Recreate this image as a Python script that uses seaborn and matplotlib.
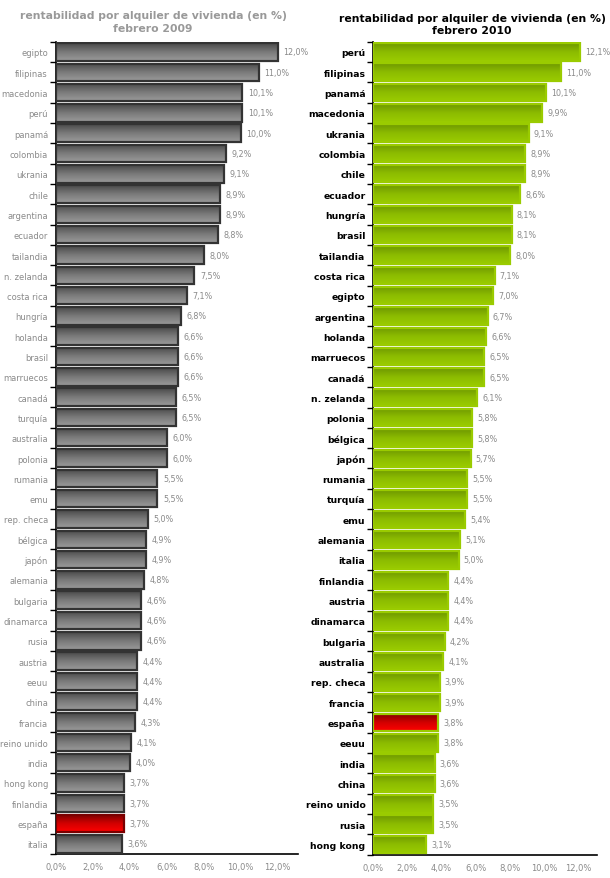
import numpy as np
import pandas as pd
import matplotlib
matplotlib.use("Agg")
import matplotlib.pyplot as plt
from matplotlib.colors import LinearSegmentedColormap
import seaborn as sns

# datos febrero 2009
paises_2009 = ["egipto", "filipinas", "macedonia", "perú", "panamá", "colombia", "ukrania",
               "chile", "argentina", "ecuador", "tailandia", "n. zelanda", "costa rica",
               "hungría", "holanda", "brasil", "marruecos", "canadá", "turquía", "australia",
               "polonia", "rumania", "emu", "rep. checa", "bélgica", "japón", "alemania",
               "bulgaria", "dinamarca", "rusia", "austria", "eeuu", "china", "francia",
               "reino unido", "india", "hong kong", "finlandia", "españa", "italia"]
rent_2009 = [12.0, 11.0, 10.1, 10.1, 10.0, 9.2, 9.1, 8.9, 8.9, 8.8, 8.0, 7.5, 7.1, 6.8,
             6.6, 6.6, 6.6, 6.5, 6.5, 6.0, 6.0, 5.5, 5.5, 5.0, 4.9, 4.9, 4.8, 4.6, 4.6,
             4.6, 4.4, 4.4, 4.4, 4.3, 4.1, 4.0, 3.7, 3.7, 3.7, 3.6]

# datos febrero 2010
paises_2010 = ["perú", "filipinas", "panamá", "macedonia", "ukrania", "colombia", "chile",
               "ecuador", "hungría", "brasil", "tailandia", "costa rica", "egipto",
               "argentina", "holanda", "marruecos", "canadá", "n. zelanda", "polonia",
               "bélgica", "japón", "rumania", "turquía", "emu", "alemania", "italia",
               "finlandia", "austria", "dinamarca", "bulgaria", "australia", "rep. checa",
               "francia", "españa", "eeuu", "india", "china", "reino unido", "rusia",
               "hong kong"]
rent_2010 = [12.1, 11.0, 10.1, 9.9, 9.1, 8.9, 8.9, 8.6, 8.1, 8.1, 8.0, 7.1, 7.0, 6.7,
             6.6, 6.5, 6.5, 6.1, 5.8, 5.8, 5.7, 5.5, 5.5, 5.4, 5.1, 5.0, 4.4, 4.4, 4.4,
             4.2, 4.1, 3.9, 3.9, 3.8, 3.8, 3.6, 3.6, 3.5, 3.5, 3.1]

xticks = [0, 2, 4, 6, 8, 10, 12]
xlabels = ["0,0%", "2,0%", "4,0%", "6,0%", "8,0%", "10,0%", "12,0%"]
titulo = "rentabilidad por alquiler de vivienda (en %)"

gris = LinearSegmentedColormap.from_list("gris", ["#4a4a4a", "#7a7a7a", "#9a9a9a"])
verde = LinearSegmentedColormap.from_list("verde", ["#6f9800", "#8cbc00", "#9acb00"])
rojo = LinearSegmentedColormap.from_list("rojo", ["#7a0000", "#d00000", "#ff0000"])

sns.set_style("white")
plt.rcParams["font.family"] = ["DejaVu Sans"]

fig = plt.figure(figsize=(6.1, 8.79), dpi=100)
ax1 = fig.add_axes([0.0913, 0.0273, 0.397, 0.924])
ax2 = fig.add_axes([0.6115, 0.0265, 0.3675, 0.925])

grad = np.linspace(0, 1, 64).reshape(-1, 1)


def dibuja(ax, paises, valores, cmap, edge, lbl_color, lbl_weight):
    df = pd.DataFrame({"pais": paises, "valor": valores})
    sns.barplot(data=df, x="valor", y="pais", orient="h", ax=ax, width=0.86,
                color="#888888", saturation=1)
    for p, pais, v in zip(ax.patches, paises, valores):
        x0, y0 = p.get_x(), p.get_y()
        w, h = p.get_width(), p.get_height()
        cm = rojo if pais == "españa" else cmap
        ec = "#7a0000" if (pais == "españa" and edge == "#333333") else edge
        im = ax.imshow(grad, cmap=cm, extent=[x0, x0 + w, y0 + h, y0],
                       aspect="auto", zorder=2, interpolation="bilinear")
        im.set_clip_path(p)
        p.set_facecolor("none")
        p.set_edgecolor(ec)
        p.set_linewidth(1.6)
        p.set_zorder(3)
        ax.text(v + 0.3, y0 + h / 2, f"{v:.1f}%".replace(".", ","), va="center",
                ha="left", fontsize=5.8, color="#8a8a8a")
    ax.set_xlim(0, 13.1)
    ax.set_ylim(len(paises) - 0.5, -0.5)
    ax.set_xticks(xticks)
    ax.set_xticklabels(xlabels, fontsize=6.0, color="#8a8a8a")
    ax.set_yticks(range(len(paises)))
    ax.set_yticklabels(paises, fontsize=6.0 if lbl_weight == "normal" else 6.7,
                       color=lbl_color, fontweight=lbl_weight)
    ax.set_yticks(np.arange(-0.5, len(paises), 1), minor=True)
    ax.tick_params(axis="y", which="major", length=0, pad=5.5)
    ax.tick_params(axis="y", which="minor", length=4, width=1, color="black", left=True)
    ax.tick_params(axis="x", length=0, pad=6)
    ax.set_xlabel("")
    ax.set_ylabel("")
    for s in ["top", "right"]:
        ax.spines[s].set_visible(False)
    for s in ["left", "bottom"]:
        ax.spines[s].set_color("black")
        ax.spines[s].set_linewidth(1.2)


dibuja(ax1, paises_2009, rent_2009, gris, "#333333", "#8a8a8a", "normal")
dibuja(ax2, paises_2010, rent_2010, verde, "#9acb00", "black", "bold")

fig.text(0.251, 0.987, titulo + "\nfebrero 2009", ha="center", va="top",
         fontsize=7.8, fontweight="bold", color="#999999", linespacing=1.3)
fig.text(0.774, 0.984, titulo + "\nfebrero 2010", ha="center", va="top",
         fontsize=7.8, fontweight="bold", color="black", linespacing=1.3)

fig.savefig("out.png", dpi=100)
